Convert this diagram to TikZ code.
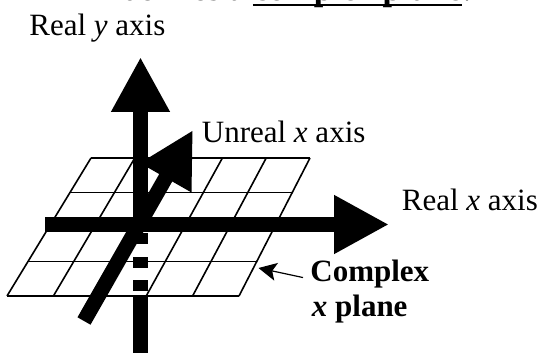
\documentclass[tikz,border=0pt]{standalone}
\usepackage{fontspec}
\setmainfont{Liberation Serif}
\usetikzlibrary{arrows.meta}

\begin{document}
\begin{tikzpicture}[x=0.5pt,y=-0.5pt,font=\fontsize{15.5}{18}\selectfont,
  ax/.style={line width=7.5pt,-{Triangle[length=27.5pt,width=27.5pt]}},
  shaft/.style={line width=7.5pt},
  g/.style={line width=0.8pt},
  lead/.style={line width=0.6pt,-{Stealth[length=9pt,width=9pt,inset=2pt]}},
  lbl/.style={inner sep=0pt,anchor=base west},
  ttl/.style={lbl,font=\fontsize{17}{20}\selectfont}]
  \useasboundingbox (0,0) rectangle (542,353);
  % heading, cut off at the top edge
  \node[ttl](pre) at (122,0.5){defines a};
  \node[ttl](cpl) at ([xshift=4.2pt]pre.base east){\bfseries complex plane};
  \node[ttl](dot) at (cpl.base east){.};
  \draw[line width=0.75pt]([yshift=-2.2pt]cpl.base west)--([yshift=-2.2pt]cpl.base east);
  % the plane
  \foreach \i in {0,...,5}{\draw[g]({91+43.8*\i},158)--({7+46.4*\i},296);}
  \foreach \j in {0,...,4}{\draw[g]({91-21*\j},{158+34.5*\j})--({310-17.75*\j},{158+34.5*\j});}
  % axes
  \coordinate(ytop) at (140.5,57);\coordinate(ymid) at (140.5,232);
  \coordinate(ylow) at (140.5,291);\coordinate(ybase) at (140.5,297);\coordinate(yend) at (140.5,362);
  \coordinate(ul) at (84,321);\coordinate(ut) at (193,130);
  \coordinate(xl) at (45,224.5);\coordinate(xr) at (389,224.5);
  \draw[shaft](yend)--(ybase);
  \draw[shaft,dash pattern=on 5.5pt off 6.2pt](ylow)--(ymid);
  \draw[ax](ymid)--(ytop);
  \draw[ax](ul)--(ut);
  \draw[ax](xl)--(xr);
  % labels
  \node[lbl](ry) at (29,36){Real \textit{y} axis};
  \node[lbl](ux) at (201.5,142.5){Unreal \textit{x} axis};
  \node[lbl](rx) at (401.5,210.5){Real \textit{x} axis};
  \node[lbl,font=\fontsize{15.5}{18}\selectfont\bfseries](cp) at (310,281.5){Complex};
  \node[lbl,font=\fontsize{15.5}{18}\selectfont\bfseries](xp) at (311.5,316.5){\textit{x} plane};
  \coordinate(pt) at (258.5,268);
  \draw[lead]([shift={(-7,3.5)}]cp.west)--(pt);
\end{tikzpicture}
\end{document}
